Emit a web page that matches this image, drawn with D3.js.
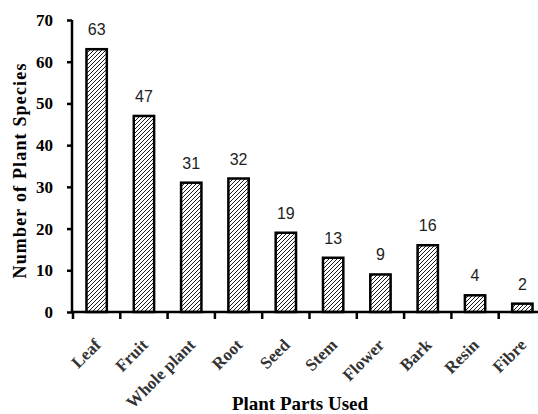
<!DOCTYPE html>
<html><head><meta charset="utf-8">
<script src="https://cdn.jsdelivr.net/npm/d3@7"></script>
<style>body{margin:0;background:#fff}svg{display:block}</style>
</head><body>
<script>
const categories = ["Leaf","Fruit","Whole plant","Root","Seed","Stem","Flower","Bark","Resin","Fibre"];
const values = [63,47,31,32,19,13,9,16,4,2];
const yTicks = [0,10,20,30,40,50,60,70];

const W=538,H=414;
const svg=d3.select("body").append("svg").attr("width",W).attr("height",H);
const defs=svg.append("defs");
const pat=defs.append("pattern").attr("id","hatch").attr("patternUnits","userSpaceOnUse")
  .attr("width",4).attr("height",4);
pat.append("rect").attr("width",4).attr("height",4).attr("fill","#fff");
pat.append("path").attr("d","M-1,1 L1,-1 M0,4 L4,0 M3,5 L5,3").attr("stroke","#000").attr("stroke-width",0.9);

const x=d3.scaleBand().domain(categories).range([73,546]).paddingInner(0.57).paddingOuter(0.285);
const y=d3.scaleLinear().domain([0,70]).range([312,20]);

// bars
svg.selectAll("rect.bar").data(values).enter().append("rect").attr("class","bar")
  .attr("x",(d,i)=>x(categories[i])).attr("width",x.bandwidth())
  .attr("y",d=>y(d)).attr("height",d=>y(0)-y(d))
  .attr("fill","url(#hatch)").attr("stroke","#000").attr("stroke-width",2.5);

// value labels
svg.selectAll("text.val").data(values).enter().append("text").attr("class","val")
  .attr("x",(d,i)=>x(categories[i])+x.bandwidth()/2).attr("y",d=>y(d)-14)
  .attr("text-anchor","middle").attr("font-family","Liberation Sans, Arial, sans-serif")
  .attr("font-size",16).attr("fill","#222").text(d=>d);

// y axis
const ya=svg.append("g").attr("transform","translate(72,0)")
  .call(d3.axisLeft(y).tickValues(yTicks).tickSize(5).tickPadding(14));
ya.select(".domain").attr("stroke-width",2.5).attr("d","M0,"+y(70)+"V"+y(0));
ya.selectAll(".tick line").attr("stroke-width",2.5);
ya.selectAll("text").attr("font-family","Liberation Serif, Times New Roman, serif")
  .attr("font-weight","bold").attr("font-size",17).attr("fill","#000");

// x axis
const step=x.step();
const xa=svg.append("g").attr("transform","translate(0,312)");
xa.append("line").attr("x1",72).attr("x2",546).attr("y1",0).attr("y2",0).attr("stroke","#000").attr("stroke-width",2.5);
const edges=categories.map(c=>x(c)-x.paddingOuter()*step);
xa.selectAll("line.tk").data(edges).enter().append("line").attr("class","tk")
  .attr("x1",d=>d).attr("x2",d=>d).attr("y1",0).attr("y2",7).attr("stroke","#000").attr("stroke-width",2.5);
xa.selectAll("text.cat").data(categories).enter().append("text").attr("class","cat")
  .attr("transform",c=>`translate(${x(c)+x.bandwidth()/2+5},${34}) rotate(-45)`)
  .attr("text-anchor","end")
  .attr("font-family","Liberation Serif, Times New Roman, serif").attr("font-weight","bold")
  .attr("font-size",17).attr("fill","#333").text(c=>c);

// titles
svg.append("text").attr("x",300).attr("y",410).attr("text-anchor","middle")
  .attr("font-family","Liberation Serif, Times New Roman, serif").attr("font-weight","bold")
  .attr("font-size",19).text("Plant Parts Used");
svg.append("text").attr("transform","translate(26,171) rotate(-90)").attr("text-anchor","middle")
  .attr("font-family","Liberation Serif, Times New Roman, serif").attr("font-weight","bold")
  .attr("font-size",18).attr("textLength",215).attr("lengthAdjust","spacing").text("Number of Plant Species");
</script>
</body></html>
